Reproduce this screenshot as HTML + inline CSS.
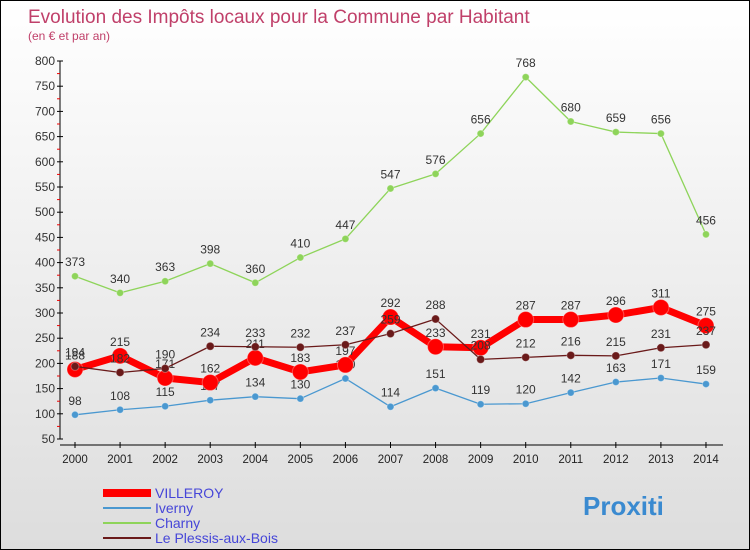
<!DOCTYPE html>
<html><head><meta charset="utf-8"><style>
body{margin:0}
#c{width:748px;height:548px;border:1px solid #000;background:linear-gradient(#fff,#ddd);position:relative;overflow:hidden;font-family:"Liberation Sans",sans-serif}
</style></head><body>
<div id="c">
<svg width="748" height="548" id="s">
<text x="27" y="22" font-size="19" fill="#c0406a">Evolution des Impôts locaux pour la Commune par Habitant</text>
<text x="27" y="39" font-size="12" fill="#c0406a">(en € et par an)</text>
</svg>
</div>
<script>
const years=[2000,2001,2002,2003,2004,2005,2006,2007,2008,2009,2010,2011,2012,2013,2014];
const yTicks=[50,100,150,200,250,300,350,400,450,500,550,600,650,700,750,800];
const villeroy=[188,215,171,162,211,183,197,292,233,231,287,287,296,311,275];
const iverny=[98,108,115,127,134,130,170,114,151,119,120,142,163,171,159];
const charny=[373,340,363,398,360,410,447,547,576,656,768,680,659,656,456];
const plessis=[194,182,190,234,233,232,237,259,288,208,212,216,215,231,237];
const S=document.getElementById('s'),NS='http://www.w3.org/2000/svg';
const X=i=>74+i*45.07, Y=v=>60+(800-v)*0.504;
function el(t,a,p){const e=document.createElementNS(NS,t);for(const k in a)e.setAttribute(k,a[k]);(p||S).appendChild(e);return e;}
const ax=el('line',{x1:59,y1:Y(800),x2:59,y2:Y(50),stroke:'#000'});


yTicks.forEach(v=>{
 const t=el('line',{x1:56,x2:62,y1:Y(v),y2:Y(v),stroke:'#000'});
 
 
 if(v<800){const m=el('line',{x1:56,x2:59,y1:Y(v+25),y2:Y(v+25),stroke:'#e00'});
 
 }
 const l=el('text',{x:54,y:Y(v)+4,'font-size':12,'text-anchor':'end',fill:'#333'});l.textContent=v;
 
 
});
const xa=el('line',{x1:59,y1:Y(50)+6,x2:722,y2:Y(50)+6,stroke:'#000'});


years.forEach((y,i)=>{
 const t=el('line',{x1:X(i),x2:X(i),y1:Y(50)+3,y2:Y(50)+9,stroke:'#000'});
 
 
 const l=el('text',{x:X(i),y:Y(50)+24,'font-size':11.5,'text-anchor':'middle',fill:'#222'});l.textContent=y;
 
 
});
function series(d,col,w,r,name){
 const g=el('g',{});
 
 
 el('polyline',{points:d.map((v,i)=>X(i)+','+Y(v)).join(' '),fill:'none',stroke:col,'stroke-width':w,'stroke-linejoin':'round'},g);
 d.forEach((v,i)=>{
  const c=el('circle',{cx:X(i),cy:Y(v),r:r,fill:col,stroke:'#fff','stroke-opacity':0.3},g);
  
  
  const t=el('text',{x:X(i),y:Y(v)-10,'font-size':12,'text-anchor':'middle',fill:'#333'},g);t.textContent=v;
  
  
 });
}
series(charny,'#8ed45a',1.3,3.5,'charny');
series(iverny,'#4a98d0',1.3,3.5,'iverny');
series(villeroy,'#f00',7,8,'villeroy');
series(plessis,'#6a1a1a',1.3,4,'plessis');
const leg=[['VILLEROY','#f00',8],['Iverny','#4a98d0',2],['Charny','#8ed45a',2],['Le Plessis-aux-Bois','#6a1a1a',2]];
leg.forEach((L,i)=>{
 const y=492+i*15;
 const ln=el('line',{x1:102,x2:150,y1:y,y2:y,stroke:L[1],'stroke-width':L[2]});
 
 
 const t=el('text',{x:154,y:y+5,'font-size':14,fill:'#4646d8'});t.textContent=L[0];
 
 
});
const lg=el('text',{x:582,y:514,'font-size':26,'font-weight':'bold',fill:'#3a8ad0'});
lg.textContent='Proxiti';


</script>
</body></html>
